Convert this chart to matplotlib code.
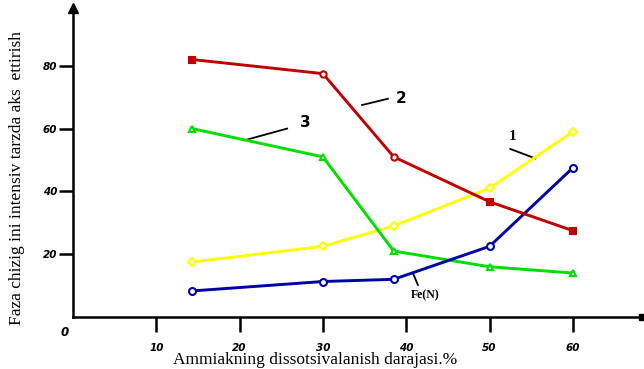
import matplotlib
matplotlib.use("Agg")
from matplotlib import pyplot as plt


# Data (x in axis units, y in axis units).
x = [14.3, 30, 38.5, 50, 60]
curve_1 = [17.5, 22.5, 29, 41, 59]      # yellow
curve_2 = [82, 77.5, 51, 36.7, 27.5]    # red
curve_3 = [60, 51, 21, 16, 14]          # green
curve_fe = [8.3, 11.3, 12, 22.5, 47.5]  # blue, Fe(N)
red_markers = ['s', 'o', 'o', 's', 's']

x_ticks = [10, 20, 30, 40, 50, 60]
y_ticks = [20, 40, 60, 80]

fig = plt.figure(figsize=(6.44, 3.69), dpi=100)
ax = fig.add_axes([73 / 644, 52 / 369, 569 / 644, 309 / 369])
ax.set_xlim(0, 68.3)
ax.set_ylim(0, 98.4)

lw = 2.1
ax.plot(x, curve_1, color='#ffff00', lw=lw, marker='D', ms=4.5,
        mfc='white', mec='#ffff00', mew=1.5, zorder=3)
ax.plot(x, curve_3, color='#00dd00', lw=lw, marker='^', ms=5,
        mfc='white', mec='#00dd00', mew=1.5, zorder=3)
ax.plot(x, curve_fe, color='#0000a8', lw=lw, marker='o', ms=5,
        mfc='white', mec='#0000a8', mew=1.5, zorder=3)
ax.plot(x, curve_2, color='#c00000', lw=lw, zorder=3)
for xi, yi, m in zip(x, curve_2, red_markers):
    face = '#c00000' if m == 's' else 'white'
    ax.plot(xi, yi, marker=m, ms=4.5, mfc=face, mec='#c00000', mew=1.5,
            zorder=4)

# Leader lines and curve numbers.
ax.plot([34.7, 37.8], [67.5, 69.5], color='black', lw=1.3)
ax.text(38.8, 69.5, '2', fontsize=11, fontweight='bold', va='center')
ax.plot([20.9, 25.7], [56.5, 60], color='black', lw=1.3)
ax.text(27.2, 62, '3', fontsize=11, fontweight='bold', va='center')
ax.plot([52.5, 55.5], [53.5, 50.5], color='black', lw=1.3)
ax.text(52.3, 57.5, '1', fontsize=11, fontweight='bold', va='center',
        family='Liberation Serif')
ax.plot([40.8, 41.4], [14, 10.2], color='black', lw=1.3)
ax.text(40.5, 7, 'Fe(N)', fontsize=8.5, fontweight='bold', va='center',
        family='Liberation Serif')

# Axes: only left and bottom lines, with arrow ends.
for side in ['top', 'right']:
    ax.spines[side].set_visible(False)
for side in ['left', 'bottom']:
    ax.spines[side].set_linewidth(1.8)
ax.plot(0, 1, marker='^', ms=7, color='black', transform=ax.transAxes,
        clip_on=False)
ax.plot(1, 0, marker='s', ms=4, color='black', transform=ax.transAxes,
        clip_on=False)

ax.set_xticks(x_ticks)
ax.set_yticks(y_ticks)
ax.tick_params(axis='x', direction='out', length=11, width=1.8, pad=7.5,
               labelsize=7.5)
ax.tick_params(axis='y', direction='out', length=10, width=1.8, pad=1.5,
               labelsize=7.5)
for lab in ax.get_xticklabels() + ax.get_yticklabels():
    lab.set_fontweight('bold')
    lab.set_fontstyle('italic')
ax.text(-1.0, -5, '0', fontsize=8.5, fontweight='bold', style='italic',
        ha='center', va='center', clip_on=False)

fig.text(173 / 644, 0.003, 'Ammiakning dissotsivalanish darajasi.%',
         fontsize=12.5, family='Liberation Serif', ha='left', va='bottom')
fig.text(17 / 644, 44 / 369, 'Faza chizig ini intensiv tarzda aks  ettirish',
         fontsize=12.5, family='Liberation Serif', rotation=90,
         ha='center', va='bottom')

fig.savefig('out.png', dpi=100)
